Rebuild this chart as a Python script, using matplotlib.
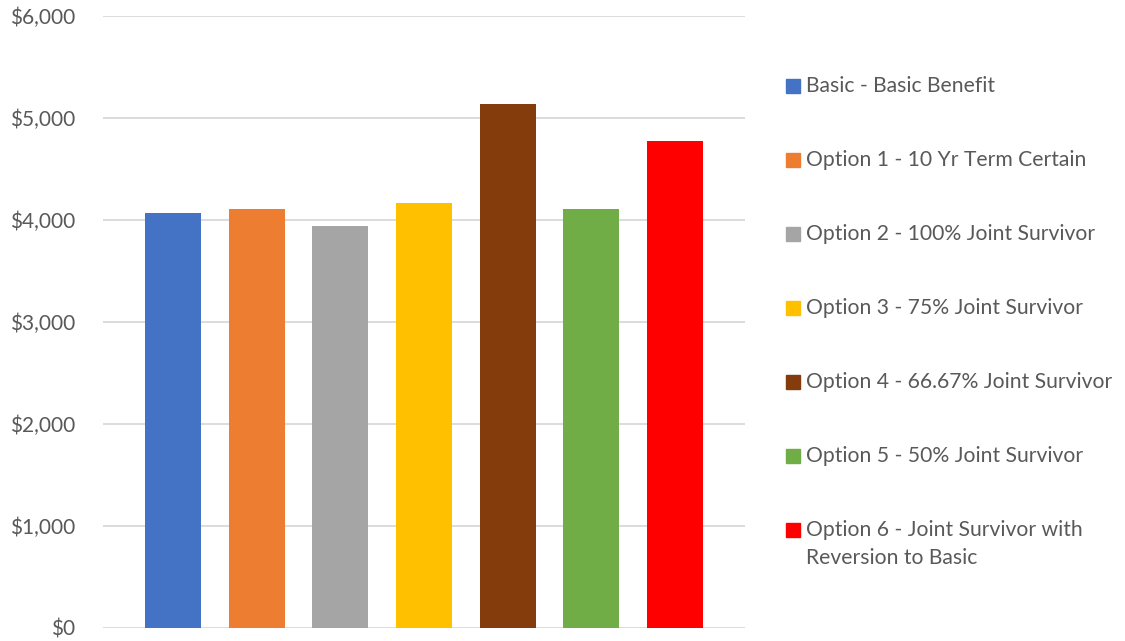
import matplotlib
matplotlib.use("Agg")
import matplotlib.pyplot as plt
from matplotlib.patches import Rectangle
from matplotlib.ticker import FuncFormatter

# benefit options and their monthly amounts
options = [
    "Basic - Basic Benefit",
    "Option 1 - 10 Yr Term Certain",
    "Option 2 - 100% Joint Survivor",
    "Option 3 - 75% Joint Survivor",
    "Option 4 - 66.67% Joint Survivor",
    "Option 5 - 50% Joint Survivor",
    "Option 6 - Joint Survivor with\nReversion to Basic",
]
amounts = [4066, 4105, 3938, 4164, 5141, 4105, 4776]
colors = ["#4472C4", "#ED7D31", "#A5A5A5", "#FFC000", "#843C0C", "#70AD47", "#FF0000"]
yticks = [0, 1000, 2000, 3000, 4000, 5000, 6000]

plt.rcParams["font.family"] = ["Lato", "DejaVu Sans"]
TXT = "#595959"

fig = plt.figure(figsize=(11.25, 6.41), dpi=100)
ax = fig.add_axes([103 / 1125, 13 / 641, 642 / 1125, 612 / 641])

xs = list(range(len(amounts)))
ax.bar(xs, amounts, width=0.67, color=colors, zorder=3)

ax.set_xlim(-0.836, len(amounts) - 1 + 0.836)
ax.set_ylim(0, 6000)
ax.set_yticks(yticks)
ax.yaxis.set_major_formatter(FuncFormatter(lambda v, _: f"${v:,.0f}"))
ax.tick_params(axis="y", length=0, pad=20, labelsize=15, labelcolor=TXT)
ax.set_xticks([])
ax.grid(axis="y", color="#D9D9D9", linewidth=1.3, zorder=0)
for s in ax.spines.values():
    s.set_visible(False)

# legend drawn by hand so the marker sits on the first line of each label
W, H = 1125, 641
for i, (lab, col) in enumerate(zip(options, colors)):
    yc = 86 + i * 74
    fig.patches.append(Rectangle((786 / W, 1 - (yc + 7) / H), 14 / W, 14 / H,
                                 transform=fig.transFigure, color=col))
    for j, line in enumerate(lab.split("\n")):
        fig.text(806 / W, 1 - (yc + 28 * j) / H, line, fontsize=15.2,
                 color=TXT, va="center")

fig.savefig("out.png", dpi=100)
